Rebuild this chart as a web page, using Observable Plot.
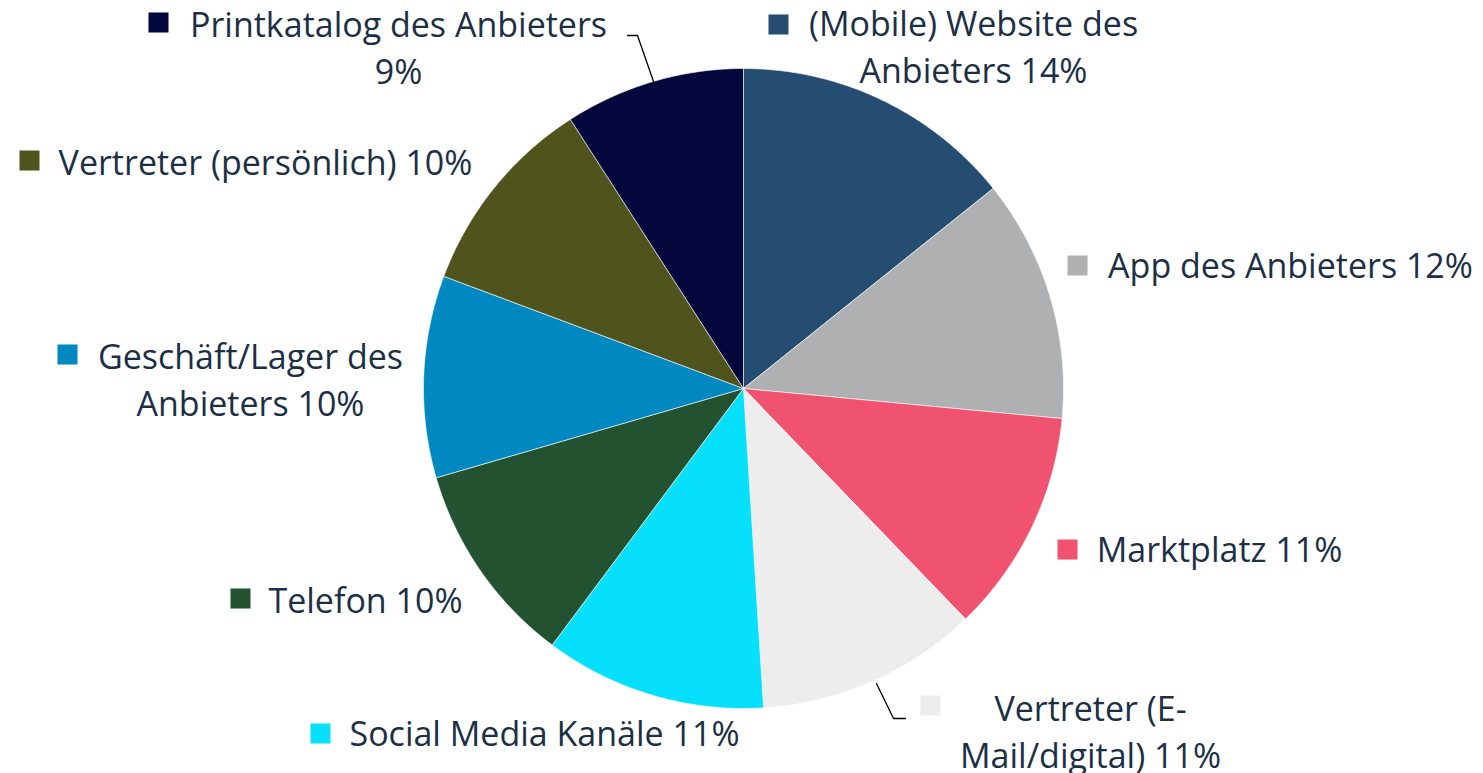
<!DOCTYPE html>
<html>
<head>
<meta charset="utf-8">
<script src="https://cdn.jsdelivr.net/npm/d3@7"></script>
<script src="https://cdn.jsdelivr.net/npm/@observablehq/plot@0.6"></script>
<style>
  html, body { margin: 0; padding: 0; background: #ffffff; overflow: hidden; }
  #chart svg { display: block; }
</style>
</head>
<body>
<div id="chart"></div>
<script>
// ---- data ----
const categories = [
  "(Mobile) Website des Anbieters",
  "App des Anbieters",
  "Marktplatz",
  "Vertreter (E-Mail/digital)",
  "Social Media Kanäle",
  "Telefon",
  "Geschäft/Lager des Anbieters",
  "Vertreter (persönlich)",
  "Printkatalog des Anbieters"
];
const values = [14.25, 12.25, 11.3, 11.2, 11.2, 10.3, 10.2, 10.2, 9.1];
const percentLabels = ["14%", "12%", "11%", "11%", "11%", "10%", "10%", "10%", "9%"];
const labelTexts = [
  "(Mobile) Website des\nAnbieters 14%",
  "App des Anbieters 12%",
  "Marktplatz 11%",
  "Vertreter (E-\nMail/digital) 11%",
  "Social Media Kanäle 11%",
  "Telefon 10%",
  "Geschäft/Lager des\nAnbieters 10%",
  "Vertreter (persönlich) 10%",
  "Printkatalog des Anbieters\n9%"
];

// ---- styles ----
const colors = ["#244d71", "#afb0b2", "#ef5370", "#ededed", "#06e0fc", "#22522f", "#0089c0", "#4f541c", "#03073c"];
const textColor = "#1c2f45";
const fontSize = 34;

// ---- layout (pixels) ----
const W = 1483, H = 773;
const cx = 743, cy = 388, R = 320;
const textPos = [[973, 44], [1290, 262], [1219, 546], [1090, 729], [544, 730], [365, 597], [250, 377], [265, 159], [398, 45]];
const squarePos = [[778, 24], [1077, 265], [1067, 549], [930, 705], [320, 733], [240, 598], [67, 354], [29, 160], [158, 22]];
const leaders = [
  {key: 8, pts: [[653, 81], [637, 35], [627, 35]]},
  {key: 3, pts: [[876, 683], [893, 718], [905, 718]]}
];
const ux = px => (px - cx) / R;
const uy = py => (cy - py) / R;

// ---- geometry from data ----
const arcs = d3.pie().sort(null).startAngle(0).endAngle(2 * Math.PI)(values);
const slicePts = [];
arcs.forEach((a, i) => {
  slicePts.push({key: categories[i], x: 0, y: 0});
  const n = Math.max(2, Math.ceil((a.endAngle - a.startAngle) / (Math.PI / 360)));
  for (let k = 0; k <= n; k++) {
    const t = a.startAngle + (a.endAngle - a.startAngle) * k / n;
    slicePts.push({key: categories[i], x: Math.sin(t), y: Math.cos(t)});
  }
  slicePts.push({key: categories[i], x: 0, y: 0});
});

const labels = categories.map((c, i) => ({
  key: c, text: labelTexts[i],
  x: ux(textPos[i][0]), y: uy(textPos[i][1]),
  sx: ux(squarePos[i][0]), sy: uy(squarePos[i][1])
}));
const leaderPts = leaders.flatMap(l => l.pts.map(p => ({key: categories[l.key], x: ux(p[0]), y: uy(p[1])})));

const chart = Plot.plot({
  width: W, height: H,
  margin: 0,
  style: {fontFamily: "'Open Sans', sans-serif", background: "#ffffff"},
  x: {domain: [-1, 1], range: [cx - R, cx + R], axis: null},
  y: {domain: [-1, 1], range: [cy + R, cy - R], axis: null},
  color: {domain: categories, range: colors},
  marks: [
    Plot.line(slicePts, {x: "x", y: "y", z: "key", fill: "key", stroke: "#ffffff", strokeWidth: 0.6, curve: "linear"}),
    Plot.line(leaderPts, {x: "x", y: "y", z: "key", stroke: "#000000", strokeWidth: 1.3}),
    Plot.dot(labels, {x: "sx", y: "sy", fill: "key", symbol: "square", r: 11.3, stroke: null}),
    Plot.text(labels, {x: "x", y: "y", text: "text", fill: textColor, fontSize: fontSize, lineHeight: 1.38, textAnchor: "middle", lineAnchor: "middle"})
  ]
});
document.getElementById("chart").appendChild(chart);
</script>
</body>
</html>
